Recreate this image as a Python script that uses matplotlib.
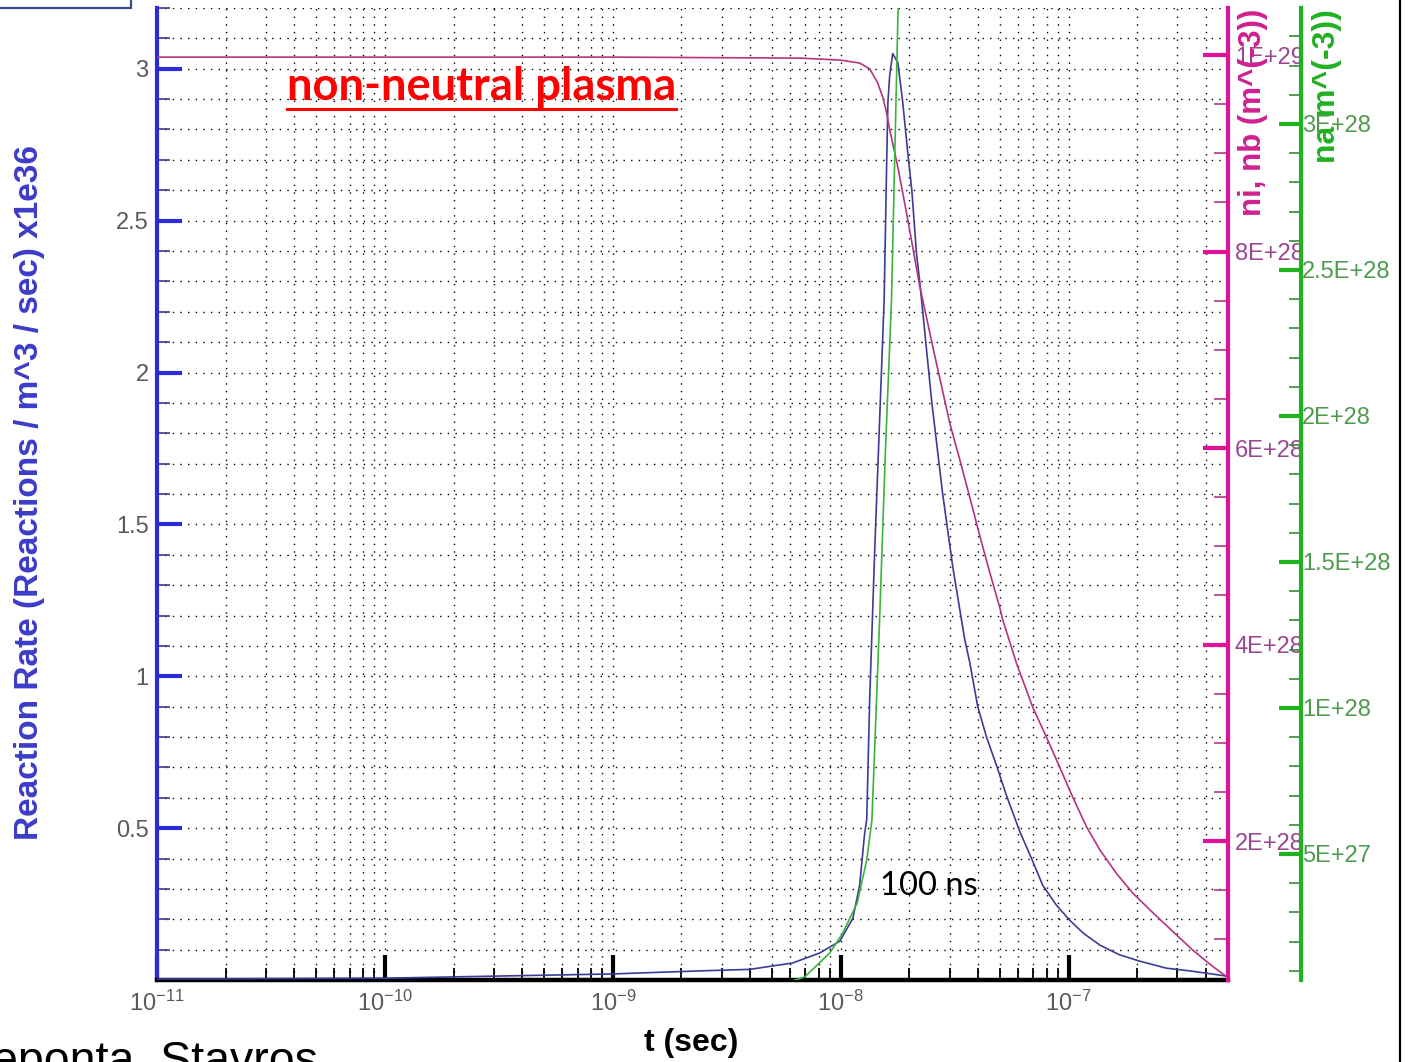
import numpy as np
import matplotlib.pyplot as plt
from matplotlib.ticker import FixedLocator, MultipleLocator, FuncFormatter, LogLocator
from matplotlib.lines import Line2D
from matplotlib.patches import Rectangle

plt.rcParams['font.family'] = ['Liberation Sans', 'DejaVu Sans']
plt.rcParams['mathtext.fontset'] = 'custom'
plt.rcParams['mathtext.rm'] = 'Liberation Sans'
plt.rcParams['mathtext.it'] = 'Liberation Sans'

# reaction rate (x1e36 reactions / m^3 / sec)
t_rate = [1e-11, 1e-10, 1e-9, 2.41e-9, 3.99e-9, 6.15e-9, 8.09e-9, 9.91e-9, 1.13e-8, 1.21e-8,
          1.27e-8, 1.30e-8, 1.34e-8, 1.41e-8, 1.48e-8, 1.55e-8, 1.59e-8, 1.61e-8, 1.64e-8,
          1.69e-8, 1.78e-8, 1.87e-8, 1.97e-8, 2.05e-8, 2.15e-8, 2.22e-8, 2.51e-8, 2.80e-8,
          3.10e-8, 3.50e-8, 3.68e-8, 3.99e-8, 4.36e-8, 4.83e-8, 5.33e-8, 6.10e-8, 6.97e-8,
          7.69e-8, 8.82e-8, 1.01e-7, 1.16e-7, 1.37e-7, 1.67e-7, 2.05e-7, 2.68e-7, 3.40e-7,
          4.93e-7]
rate = [0.003, 0.006, 0.02, 0.030, 0.035, 0.056, 0.089, 0.128, 0.203, 0.312,
        0.476, 0.53, 0.93, 1.42, 1.84, 2.24, 2.69, 2.89, 2.98,
        3.05, 3.02, 2.89, 2.72, 2.60, 2.39, 2.30, 1.90, 1.60,
        1.36, 1.12, 1.046, 0.90, 0.80, 0.705, 0.608, 0.489, 0.389,
        0.312, 0.247, 0.197, 0.154, 0.115, 0.083, 0.062, 0.039, 0.030,
        0.013]

# ni, nb density (m^-3)
t_ninb = [1e-11, 1e-10, 1e-9, 6.61e-9, 8.09e-9, 9.91e-9, 1.21e-8, 1.34e-8, 1.45e-8, 1.53e-8,
          1.59e-8, 1.64e-8, 1.78e-8, 1.97e-8, 2.22e-8, 2.54e-8, 3.01e-8, 3.33e-8, 3.68e-8,
          4.07e-8, 4.51e-8, 4.98e-8, 5.14e-8, 5.90e-8, 6.96e-8, 7.98e-8, 9.14e-8, 1.04e-7,
          1.20e-7, 1.37e-7, 1.62e-7, 1.91e-7, 2.34e-7, 2.86e-7, 3.50e-7, 4.30e-7, 4.93e-7]
ni_nb = [9.98e28, 9.98e28, 9.98e28, 9.97e28, 9.96e28, 9.95e28, 9.92e28, 9.86e28, 9.72e28, 9.57e28,
         9.41e28, 9.24e28, 8.86e28, 8.32e28, 7.65e28, 7.02e28, 6.25e28, 5.88e28, 5.50e28,
         5.11e28, 4.73e28, 4.38e28, 4.25e28, 3.81e28, 3.36e28, 3.06e28, 2.75e28, 2.45e28,
         2.14e28, 1.91e28, 1.67e28, 1.47e28, 1.27e28, 1.08e28, 0.89e28, 0.72e28, 0.62e28]

# na density (m^-3)
t_na = [1e-11, 1e-9, 5.0e-9, 6.95e-9, 8.95e-9, 1.02e-8, 1.18e-8, 1.30e-8, 1.37e-8, 1.48e-8,
        1.57e-8, 1.67e-8, 1.78e-8, 1.91e-8]
na = [0.0, 1.0e26, 4.5e26, 0.79e27, 1.61e27, 2.29e27, 3.32e27, 4.79e27, 6.16e27, 1.30e28,
      1.88e28, 2.40e28, 3.36e28, 4.0e28]

rate_ticks = [0.5, 1, 1.5, 2, 2.5, 3]
ninb_ticks = [2e28, 4e28, 6e28, 8e28, 1e29]
na_ticks = [5e27, 1e28, 1.5e28, 2e28, 2.5e28, 3e28]

BLUE_AX = '#2b2bd9'
MAG_AX = '#e0129a'
GRN_AX = '#1fb41f'

W, H = 1412, 1062
fig = plt.figure(figsize=(W / 100, H / 100), dpi=100)
ax = fig.add_axes([157 / W, 1 - 980 / H, (1228 - 157) / W, (980 - 8) / H])
ax2 = ax.twinx()
ax3 = ax.twinx()
ax3.spines['right'].set_position(('axes', 1.068))

# left axis: reaction rate
ax.plot(t_rate, rate, color='#3c3c96', lw=1.2, zorder=3)
ax.set_xscale('log')
ax.set_xlim(1e-11, 5e-7)
ax.set_ylim(0, 3.2)
ax.yaxis.set_major_locator(FixedLocator(rate_ticks))
ax.yaxis.set_minor_locator(MultipleLocator(0.1))
ax.yaxis.set_major_formatter(FuncFormatter(lambda v, p: f'{v:g}'))
ax.xaxis.set_major_locator(LogLocator(base=10, numticks=20))
ax.xaxis.set_minor_locator(LogLocator(base=10, subs=np.arange(2, 10), numticks=20))
ax.grid(which='both', color='black', linestyle=(0, (1, 4.5)), lw=1.0)
for s in ['top', 'right']:
    ax.spines[s].set_visible(False)
ax.spines['left'].set_color(BLUE_AX)
ax.spines['left'].set_linewidth(3)
ax.spines['bottom'].set_color('black')
ax.spines['bottom'].set_linewidth(3.2)
ax.tick_params(axis='y', which='major', direction='in', length=18, width=3, color=BLUE_AX,
               labelsize=17, labelcolor='#5a5a5a', pad=6)
ax.tick_params(axis='y', which='minor', direction='in', length=9, width=1.2, color='#3a3a8a')
ax.tick_params(axis='x', which='major', direction='in', length=18, width=3, color='black',
               labelsize=17, labelcolor='#5a5a5a', pad=8)
ax.tick_params(axis='x', which='minor', direction='in', length=9, width=1.3, color='black')

# magenta axis: ni, nb
ax2.plot(t_ninb, ni_nb, color='#b5337f', lw=1.2, zorder=3)
ax2.set_ylim(5.85e27, 1.048e29)
ax2.yaxis.set_major_locator(FixedLocator(ninb_ticks))
ax2.yaxis.set_minor_locator(MultipleLocator(5e27))
ax2.yaxis.set_major_formatter(FuncFormatter(lambda v, p: f'{v:G}'))
for s in ['top', 'left', 'bottom']:
    ax2.spines[s].set_visible(False)
ax2.spines['right'].set_color(MAG_AX)
ax2.spines['right'].set_linewidth(3)
ax2.tick_params(axis='y', which='major', direction='in', length=18, width=3, color=MAG_AX,
                labelsize=17, labelcolor='#9a4690', pad=5)
ax2.tick_params(axis='y', which='minor', direction='in', length=10, width=1.2, color='#b03a90')

# green axis: na
ax3.plot(t_na, na, color='#3cb43c', lw=1.2, zorder=3)
ax3.set_ylim(6.85e26, 3.397e28)
ax3.yaxis.set_major_locator(FixedLocator(na_ticks))
ax3.yaxis.set_minor_locator(MultipleLocator(1e27))
ax3.yaxis.set_major_formatter(FuncFormatter(lambda v, p: f'{v:G}'))
for s in ['top', 'left', 'bottom']:
    ax3.spines[s].set_visible(False)
ax3.spines['right'].set_color(GRN_AX)
ax3.spines['right'].set_linewidth(3)
ax3.tick_params(axis='y', which='major', direction='in', length=16, width=3, color=GRN_AX,
                labelsize=17, labelcolor='#4f9a4f', pad=1)
ax3.tick_params(axis='y', which='minor', direction='in', length=9, width=1.2, color='#3a8a3a')

# axis titles
fig.text(30 / W, 1 - 492 / H, 'Reaction Rate (Reactions / m^3 / sec) x1e36', rotation=90,
         ha='center', va='center', fontsize=24, fontweight='bold', color='#3c3cc8')
fig.text(691 / W, 1 - 1043 / H, 't (sec)', ha='center', va='center', fontsize=23,
         fontweight='bold', color='black')
fig.text(1253 / W, 1 - 9 / H, 'ni, nb (m^(-3))', rotation=90, ha='center', va='top',
         fontsize=22.5, fontweight='bold', color='#d0208f')
fig.text(1327 / W, 1 - 9 / H, 'na m^(-3))', rotation=90, ha='center', va='top',
         fontsize=23, fontweight='bold', color='#22b022')

# annotations
title = fig.text(287 / W, 1 - 100 / H, 'non-neutral plasma', ha='left', va='baseline',
                 fontsize=32.7, fontweight='bold', color='#ff0000', family=['Lato', 'DejaVu Sans'])
fig.text(880 / W, 1 - 895 / H, '100 ns', ha='left', va='baseline', fontsize=23.5,
         color='black', family=['Lato', 'DejaVu Sans'])
fig.text(-8 / W, 1 - 1074 / H, 'eponta, Stavros', ha='left', va='baseline', fontsize=33.5,
         color='black')

fig.canvas.draw()
bb = title.get_window_extent()
fig.add_artist(Line2D([bb.x0 / W, bb.x1 / W], [1 - 109 / H, 1 - 109 / H],
                      color='#ff0000', lw=2.2))

# slide frame pieces
fig.add_artist(Rectangle((-0.01, 1 - 8 / H), 131 / W + 0.01, 0.05, fill=False,
                         edgecolor='#2e4f8c', lw=1.6, transform=fig.transFigure))
fig.add_artist(Line2D([1400 / W, 1400 / W], [0, 1], color='black', lw=1.6))

fig.savefig('out.png', dpi=100)
